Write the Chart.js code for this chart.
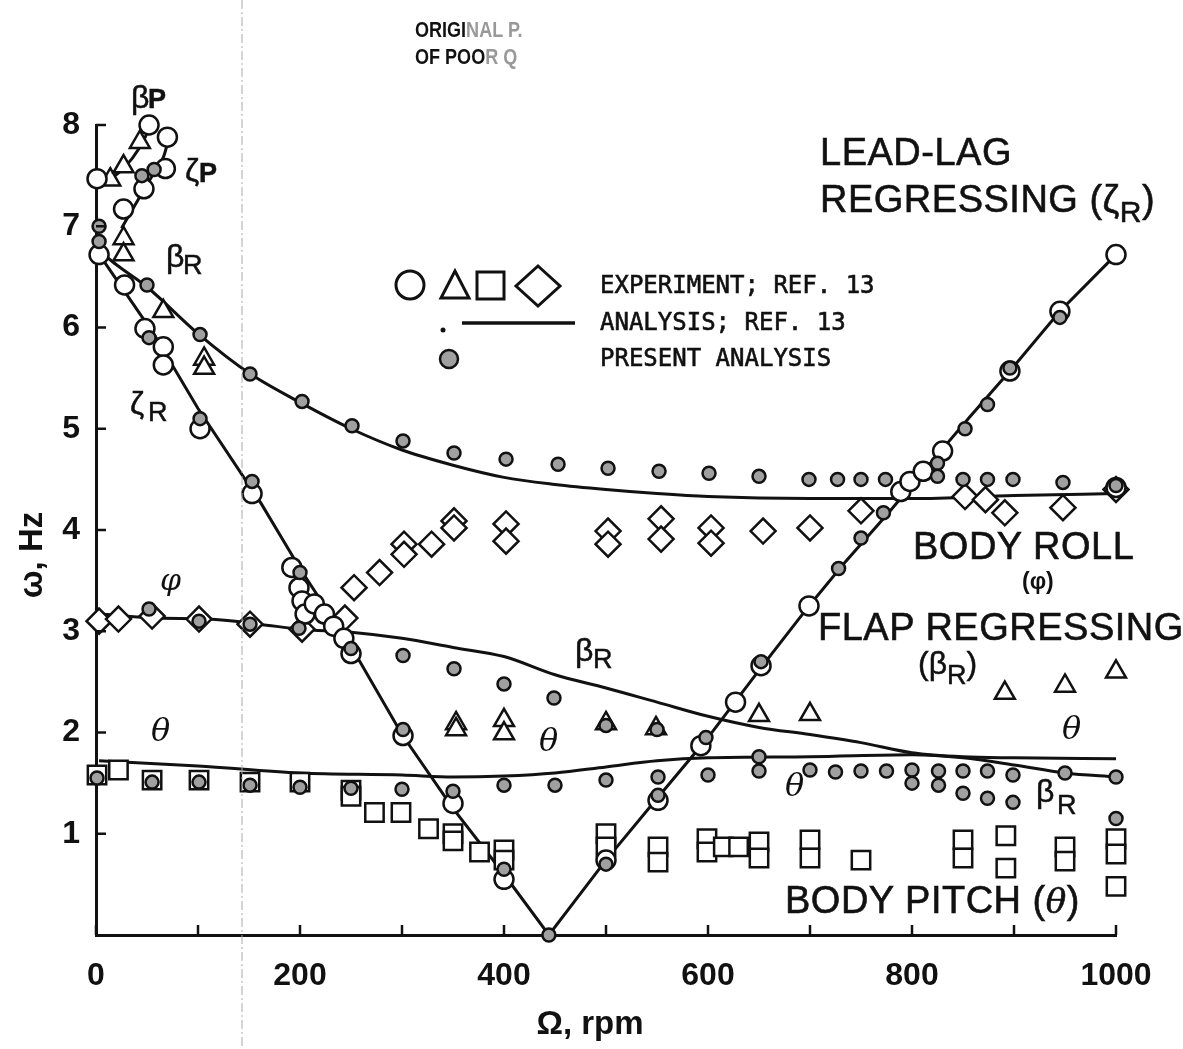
<!DOCTYPE html>
<html><head><meta charset="utf-8">
<script src="https://cdn.jsdelivr.net/npm/chart.js@4.4.1/dist/chart.umd.min.js"></script>
<style>
html,body{margin:0;padding:0;background:#fff;}
#wrap{position:relative;width:1183px;height:1049px;overflow:hidden;background:#fff;}
#c{position:absolute;left:0;top:0;}
#ov{position:absolute;left:0;top:0;pointer-events:none;}
.t{position:absolute;font-family:"Liberation Sans",Arial,sans-serif;color:#111;line-height:1;white-space:nowrap;}
.big{font-size:38px;letter-spacing:0.5px;-webkit-text-stroke:0.6px #111;}
.g{font-size:32px;-webkit-text-stroke:0.5px #111;}
.sb{font-size:27px;-webkit-text-stroke:0.5px #111;}
.it{font-style:italic;font-family:"DejaVu Serif","Liberation Serif",serif;}
.mono{font-family:"DejaVu Sans Mono",monospace;font-size:24px;-webkit-text-stroke:0.6px #111;}
.b{font-weight:bold;}
</style></head>
<body>
<div id="wrap">
<canvas id="c" width="1183" height="1049"></canvas>
<svg id="ov" width="1183" height="1049" xmlns="http://www.w3.org/2000/svg">
  <line x1="242" y1="0" x2="242" y2="1049" stroke="#aaa" stroke-width="1" stroke-dasharray="9,3,2,3"/>
  <circle cx="410" cy="285" r="14" fill="none" stroke="#111" stroke-width="3"/>
  <polygon points="455,271 441,298 469,298" fill="none" stroke="#111" stroke-width="3"/>
  <rect x="477" y="272" width="27" height="27" fill="none" stroke="#111" stroke-width="3"/>
  <polygon points="538,266 560,286 538,306 516,286" fill="none" stroke="#111" stroke-width="3"/>
  <circle cx="443" cy="330" r="2.5" fill="#111"/>
  <line x1="462" y1="323" x2="575" y2="323" stroke="#111" stroke-width="3.5"/>
  <circle cx="449" cy="359" r="9" fill="#a0a0a0" stroke="#111" stroke-width="2.5"/>
</svg>

<div class="t b" style="left:415px;top:19px;font-size:22px;transform:scaleX(0.82);transform-origin:left top;">ORIGI<span style="color:#999">NAL P.</span></div>
<div class="t b" style="left:415px;top:46px;font-size:22px;transform:scaleX(0.82);transform-origin:left top;">OF POO<span style="color:#999">R Q</span></div>

<div class="t g" style="left:131px;top:81px;">β</div><div class="t sb b" style="left:148px;top:86px;">P</div>
<div class="t g" style="left:185px;top:154px;">ζ</div><div class="t sb b" style="left:199px;top:160px;">P</div>
<div class="t g" style="left:166px;top:240px;">β</div><div class="t sb" style="left:183px;top:252px;">R</div>
<div class="t g" style="left:130px;top:387px;">ζ</div><div class="t sb" style="left:148px;top:399px;">R</div>
<div class="t it" style="left:160px;top:565px;font-size:30px;">φ</div>
<div class="t it" style="left:151px;top:714px;font-size:32px;">θ</div>
<div class="t g" style="left:575px;top:634px;">β</div><div class="t sb" style="left:593px;top:646px;">R</div>
<div class="t it" style="left:539px;top:724px;font-size:32px;">θ</div>
<div class="t it" style="left:1062px;top:712px;font-size:32px;">θ</div>
<div class="t it" style="left:785px;top:769px;font-size:32px;">θ</div>
<div class="t g" style="left:1036px;top:775px;">β</div><div class="t sb" style="left:1057px;top:792px;">R</div>

<div class="t big" style="left:820px;top:133px;">LEAD-LAG</div>
<div class="t big" style="left:820px;top:180px;">REGRESSING (ζ<span style="font-size:30px;position:relative;top:10px;">R</span>)</div>
<div class="t big" style="left:913px;top:527px;">BODY ROLL</div>
<div class="t b" style="left:1022px;top:570px;font-size:23px;">(φ)</div>
<div class="t big" style="left:818px;top:608px;">FLAP REGRESSING</div>
<div class="t g" style="left:918px;top:647px;">(β<span style="font-size:27px;position:relative;top:10px;">R</span>)</div>
<div class="t big" style="left:785px;top:881px;">BODY PITCH (<span class="it" style="font-size:34px;">θ</span>)</div>

<div class="t mono" style="left:600px;top:273px;">EXPERIMENT; REF. 13</div>
<div class="t mono" style="left:600px;top:310px;">ANALYSIS; REF. 13</div>
<div class="t mono" style="left:600px;top:346px;">PRESENT ANALYSIS</div>

<div class="t b" style="left:30px;top:555px;font-size:33px;transform:translate(-50%,-50%) rotate(-90deg);">ω, Hz</div>
<div class="t b" style="left:590px;top:1022px;font-size:33px;transform:translate(-50%,-50%);">Ω, rpm</div>
</div>

<script>
// ================= DATA (rpm, Hz) =================
// Analysis, Ref. 13 (solid lines)
const betaPLine = [[3,7.42],[14,7.47],[27,7.57],[43,7.78],[53,7.98]];
const zetaPLine = [[25,6.98],[40,7.24],[57,7.53],[66,7.68],[73,7.93]];
const betaRUpperLine = [[4,6.75],[20,6.62],[50,6.4],[100,5.94],[150,5.55],[200,5.26],[250,5.0],[300,4.79],[350,4.64],[400,4.52],[450,4.45],[500,4.4],[550,4.36],[600,4.33],[700,4.31],[800,4.31],[900,4.34],[1000,4.36]];
const zetaRLine = [[8,6.65],[57,5.93],[100,5.2],[162,4.26],[200,3.62],[253,2.8],[300,1.98],[350,1.25],[400,0.6],[444,0],[500,0.74],[551,1.36],[600,1.95],[652,2.64],[699,3.25],[735,3.69],[777,4.17],[823,4.72],[857,5.12],[896,5.57],[945,6.16],[1000,6.72]];
const rollFlapLine = [[3,3.17],[60,3.13],[110,3.12],[160,3.07],[200,3.02],[250,2.99],[300,2.93],[350,2.84],[400,2.75],[450,2.57],[500,2.44],[550,2.3],[600,2.16],[650,2.05],[700,1.98],[750,1.9],[800,1.8],[850,1.76],[900,1.75],[1000,1.74]];
const pitchLine = [[3,1.72],[100,1.67],[200,1.6],[300,1.58],[350,1.56],[400,1.57],[450,1.6],[500,1.66],[550,1.72],[600,1.75],[700,1.76],[800,1.78],[850,1.75],[900,1.68],[950,1.6],[1000,1.56]];

// Experiment, Ref. 13
const expCircles = [[1,7.47],[27,7.17],[47,7.37],[68,7.57],[70,7.88],[52,8.0],[3,6.72],[28,6.42],[48,5.99],[66,5.81],[66,5.63],[102,5.0],[153,4.36],[192,3.63],[199,3.43],[202,3.3],[205,3.17],[214,3.27],[224,3.17],[233,3.05],[243,2.93],[250,2.78],[301,1.97],[350,1.3],[400,0.55],[500,0.74],[551,1.33],[593,1.87],[627,2.3],[652,2.66],[699,3.25],[789,4.38],[798,4.48],[811,4.58],[830,4.78],[896,5.57],[945,6.16],[1000,6.72],[1000,4.42]];
const expTriangles = [[14,7.46],[27,7.59],[43,7.83],[27,6.88],[27,6.72],[66,6.16],[106,5.69],[106,5.6],[353,2.09],[353,2.03],[400,2.12],[400,1.99],[500,2.09],[549,2.04],[650,2.17],[700,2.18],[891,2.39],[950,2.46],[1000,2.6]];
const expSquares = [[1,1.58],[22,1.63],[55,1.53],[101,1.53],[151,1.51],[200,1.51],[250,1.43],[250,1.37],[273,1.21],[299,1.21],[326,1.05],[350,1.0],[350,0.93],[376,0.82],[400,0.84],[400,0.74],[500,1.0],[500,0.87],[551,0.87],[551,0.72],[599,0.95],[599,0.82],[615,0.87],[630,0.87],[650,0.92],[650,0.76],[700,0.94],[700,0.76],[750,0.74],[850,0.94],[850,0.76],[892,0.98],[892,0.66],[950,0.87],[950,0.73],[1000,0.95],[1000,0.8],[1000,0.48]];
const expDiamonds = [[3,3.1],[22,3.12],[55,3.15],[101,3.12],[151,3.07],[202,3.02],[244,3.13],[253,3.43],[278,3.58],[302,3.86],[302,3.76],[329,3.86],[351,4.09],[351,4.02],[402,4.06],[402,3.89],[502,3.99],[502,3.86],[554,4.11],[554,3.91],[603,4.02],[603,3.87],[654,3.99],[700,4.02],[750,4.19],[852,4.33],[872,4.3],[891,4.17],[948,4.22],[1000,4.4]];

// Present analysis
const presentTopLeft = [[3,6.85],[3,7.0],[45,7.5],[57,7.56]];
const presentBetaRUpper = [[50,6.42],[102,5.93],[151,5.54],[202,5.27],[251,5.03],[301,4.88],[351,4.76],[402,4.7],[453,4.65],[502,4.61],[552,4.58],[601,4.56],[650,4.53],[699,4.5],[727,4.5],[750,4.5],[774,4.5],[850,4.5],[874,4.5],[899,4.5],[948,4.47],[1000,4.44]];
const presentZetaR = [[52,5.9],[102,5.1],[153,4.48],[200,3.58],[250,2.83],[301,2.03],[350,1.42],[400,0.65],[444,0],[500,0.7],[551,1.38],[598,1.95],[652,2.7],[728,3.62],[750,3.92],[772,4.17],[825,4.66],[825,4.53],[852,5.0],[874,5.24],[896,5.6],[945,6.1]];
const presentRollFlap = [[52,3.22],[101,3.1],[151,3.07],[199,3.03],[301,2.76],[351,2.63],[400,2.48],[449,2.34],[500,2.07],[550,2.03],[650,1.76]];
const presentPitch = [[1,1.55],[55,1.51],[101,1.51],[151,1.48],[200,1.46],[250,1.45],[300,1.44],[400,1.48],[450,1.48],[500,1.53],[551,1.56],[600,1.58],[650,1.62],[700,1.63],[725,1.61],[750,1.62],[775,1.62],[800,1.63],[826,1.62],[850,1.62],[874,1.62],[899,1.58],[950,1.6],[1000,1.56],[800,1.5],[826,1.48],[850,1.4],[874,1.35],[899,1.31],[1000,1.15]];

const xRange = [0, 1000];
const yRange = [0, 8];

// ================= CHART =================
const toXY = arr => arr.map(([x, y]) => ({x, y}));
const INK = '#111';
const marker = (label, arr, style, r, fill) => ({
  label, data: toXY(arr), showLine: false, clip: false,
  pointStyle: style, pointRadius: r, pointHoverRadius: r,
  pointBorderWidth: 2.5, pointBorderColor: INK, pointBackgroundColor: fill
});
const line = (label, arr, smooth) => ({
  label, data: toXY(arr), showLine: true, clip: false, pointRadius: 0, pointHoverRadius: 0,
  borderColor: INK, borderWidth: 3, fill: false,
  tension: smooth ? 0.4 : 0, cubicInterpolationMode: smooth ? 'monotone' : 'default'
});

const presentAll = [].concat(presentTopLeft, presentBetaRUpper, presentZetaR, presentRollFlap, presentPitch);

const datasets = [
  marker('Present analysis', presentAll, 'circle', 6.5, '#a0a0a0'),
  marker('Experiment (circle)', expCircles, 'circle', 9.5, '#fff'),
  marker('Experiment (triangle)', expTriangles, 'triangle', 11.5, '#fff'),
  marker('Experiment (square)', expSquares, 'rect', 13, '#fff'),
  marker('Experiment (diamond)', expDiamonds, 'rectRot', 12.5, '#fff'),
  line('βP analysis', betaPLine, true),
  line('ζP analysis', zetaPLine, true),
  line('βR analysis', betaRUpperLine, true),
  line('ζR analysis', zetaRLine, false),
  line('φ / βR analysis', rollFlapLine, true),
  line('θ analysis', pitchLine, true)
];

const inwardTicks = {
  id: 'inwardTicks',
  afterDraw(chart) {
    const {ctx, scales: {x, y}} = chart;
    ctx.save();
    ctx.strokeStyle = INK; ctx.lineWidth = 2.5;
    x.ticks.forEach(t => {
      const px = x.getPixelForValue(t.value);
      ctx.beginPath(); ctx.moveTo(px, y.bottom); ctx.lineTo(px, y.bottom - 10); ctx.stroke();
    });
    y.ticks.forEach(t => {
      if (t.value === 0) return;
      const py = y.getPixelForValue(t.value);
      ctx.beginPath(); ctx.moveTo(x.left, py); ctx.lineTo(x.left + 10, py); ctx.stroke();
    });
    ctx.restore();
  }
};

const tickFont = {family: '"Liberation Sans", Arial, sans-serif', size: 32, weight: 'bold'};

new Chart(document.getElementById('c'), {
  type: 'scatter',
  data: {datasets},
  options: {
    responsive: false, animation: false, events: [],
    layout: {padding: {top: 125, right: 67, left: 0, bottom: 0}},
    plugins: {legend: {display: false}, tooltip: {enabled: false}},
    scales: {
      x: {
        type: 'linear', min: xRange[0], max: xRange[1],
        grid: {display: false, drawTicks: false},
        border: {display: true, color: INK, width: 3},
        ticks: {stepSize: 100, autoSkip: false, maxRotation: 0, padding: 22, color: INK, font: tickFont,
          callback: v => (v % 200 === 0 ? String(v) : '')},
        afterFit: s => { s.height = 114; }
      },
      y: {
        type: 'linear', min: yRange[0], max: yRange[1],
        grid: {display: false, drawTicks: false},
        border: {display: true, color: INK, width: 3},
        ticks: {stepSize: 1, padding: 16, color: INK, font: tickFont,
          callback: v => (v === 0 ? '' : String(v))},
        afterFit: s => { s.width = 96; }
      }
    }
  },
  plugins: [inwardTicks]
});
</script>
</body></html>
